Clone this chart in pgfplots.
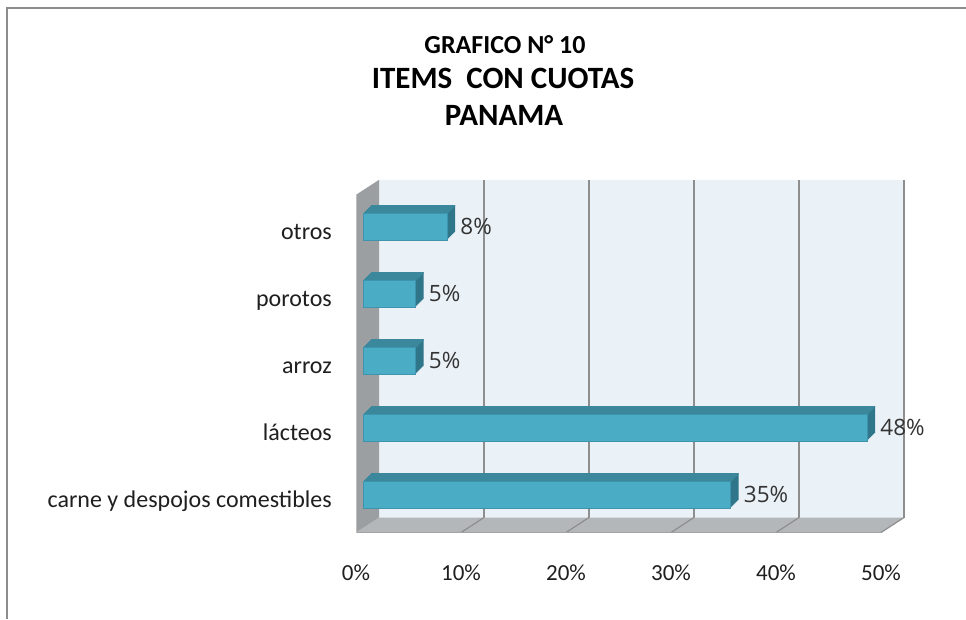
\documentclass[border=0pt]{standalone}
\usepackage{pgfplots}
\pgfplotsset{compat=1.18}
\usepackage{pgfplotstable}
\usepackage{fontspec}
\setmainfont{Carlito}
\newfontfamily\valfont{Open Sans}
\definecolor{barfront}{HTML}{4BACC6}
\definecolor{barborder}{HTML}{3E94AC}
\definecolor{bartop}{HTML}{3B879C}
\definecolor{barside}{HTML}{30768A}
\definecolor{backwall}{HTML}{EAF1F7}
\definecolor{floorc}{HTML}{B4B7BA}
\definecolor{leftwall}{HTML}{9C9FA1}
\definecolor{gridc}{HTML}{8E8E8E}
\definecolor{framec}{HTML}{8D8D8D}

\pgfplotstableread{
y v
0 35
1 48
2 5
3 5
4 8
}\data

\begin{document}
\begin{tikzpicture}
\useasboundingbox (0,0) rectangle (966pt,-619pt);
\fill[white] (0,0) rectangle (966pt,-619pt);
\draw[framec, line width=1.5pt] (7pt,-619pt) -- (7pt,-8pt) -- (966pt,-8pt);
\node[anchor=base, font=\bfseries\fontsize{26}{30}\selectfont] at (505pt,-53pt) {GRAFICO N° 10};
\node[anchor=base, font=\bfseries\fontsize{31}{36}\selectfont] at (503pt,-88pt) {ITEMS\ \ CON CUOTAS};
\node[anchor=base, font=\bfseries\fontsize{31}{36}\selectfont] at (504pt,-125pt) {PANAMA};
\begin{axis}[
  at={(363pt,-528pt)}, anchor=south west,
  scale only axis, width=525pt, height=335pt,
  xmin=0, xmax=50, ymin=-0.5, ymax=4.5,
  clip=false,
  axis line style={draw=none},
  major tick length=0pt,
  xtick={0,10,...,50},
  xticklabel={\pgfmathprintnumber{\tick}\%},
  ytick={0,1,2,3,4},
  yticklabels={carne y despojos comestibles, lácteos, arroz, porotos, otros},
  ticklabel style={inner sep=0pt, text=black!88},
  xticklabel style={font=\fontsize{23}{26}\selectfont, anchor=base, xshift=-7pt, yshift=-52pt},
  yticklabel style={font=\fontsize{24}{27}\selectfont, anchor=base east, xshift=-31pt, yshift=-12.5pt},
  /pgf/number format/assume math mode=true,
]
% back wall
\fill[backwall] ([shift={(16pt,10.5pt)}]axis cs:0,-0.5) rectangle ([shift={(16pt,10.5pt)}]axis cs:50,4.54);
\pgfplotsinvokeforeach{10,20,30,40,50}{
  \draw[gridc, line width=1.2pt] ([shift={(16pt,10.5pt)}]axis cs:#1,-0.5) -- ([shift={(16pt,10.5pt)}]axis cs:#1,4.54);
}
% floor
\fill[floorc] ([shift={(-7pt,-4.5pt)}]axis cs:0,-0.5) -- ([shift={(-7pt,-4.5pt)}]axis cs:50,-0.5) -- ([shift={(16pt,10.5pt)}]axis cs:50,-0.5) -- ([shift={(16pt,10.5pt)}]axis cs:0,-0.5) -- cycle;
\pgfplotsinvokeforeach{10,20,30,40,50}{
  \draw[gridc, line width=1.2pt] ([shift={(16pt,10.5pt)}]axis cs:#1,-0.5) -- ([shift={(-7pt,-4.5pt)}]axis cs:#1,-0.5);
}
\draw[gridc!80, line width=1pt] ([shift={(-7pt,-4.5pt)}]axis cs:0,-0.5) -- ([shift={(-7pt,-4.5pt)}]axis cs:50,-0.5);
% left wall
\fill[leftwall] ([shift={(-7pt,-4.5pt)}]axis cs:0,-0.5) -- ([shift={(-7pt,-4.5pt)}]axis cs:0,4.54) -- ([shift={(16pt,10.5pt)}]axis cs:0,4.54) -- ([shift={(16pt,10.5pt)}]axis cs:0,-0.5) -- cycle;
\draw[black!25, line width=1pt] ([shift={(-7pt,-4.5pt)}]axis cs:0,-0.5) -- ([shift={(-7pt,-4.5pt)}]axis cs:0,4.54);
% bars: extrusion (side), top face, front face
\pgfplotsinvokeforeach{1,...,8}{
  \addplot[xbar, bar width=27pt, bar shift=0pt, fill=barside, draw=none, xshift=#1pt, yshift=#1pt] table[x=v,y=y]{\data};
}
\pgfplotsinvokeforeach{1,...,8}{
  \addplot[xbar, bar width=1.5pt, bar shift=12.75pt, fill=bartop, draw=none, xshift=#1pt, yshift=#1pt] table[x=v,y=y]{\data};
}
\addplot[xbar, bar width=27pt, bar shift=0pt, fill=barfront, draw=barborder, line width=0.8pt,
  point meta=x,
  nodes near coords={\pgfmathprintnumber{\pgfplotspointmeta}\%},
  nodes near coords style={anchor=west, inner sep=0pt, xshift=13pt, font=\valfont\fontsize{22.5}{26}\selectfont, text=black!80}]
  table[x=v,y=y]{\data};
\end{axis}
\end{tikzpicture}
\end{document}
